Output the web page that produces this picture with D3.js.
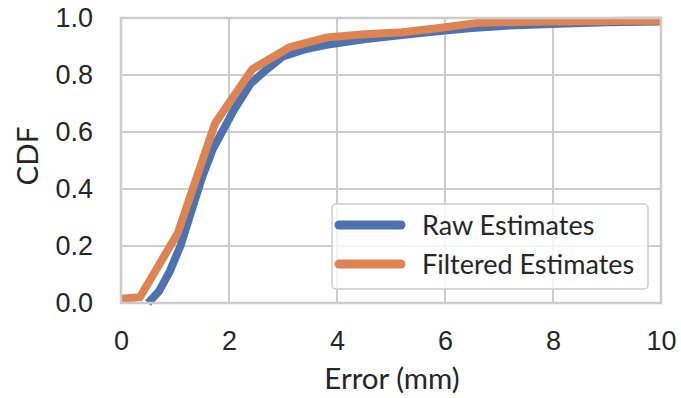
<!DOCTYPE html>
<html>
<head>
<meta charset="utf-8">
<script src="https://cdn.jsdelivr.net/npm/d3@7"></script>
<style>
  body { margin: 0; background: #fff; }
  svg { display: block; font-family: Lato, "DejaVu Sans", sans-serif; }
</style>
</head>
<body>
<div id="chart"></div>
<script>
// values
const xTicks = [0, 2, 4, 6, 8, 10];
const yTicks = [0, 0.2, 0.4, 0.6, 0.8, 1.0];

const rawX = [0.5, 0.7, 0.9, 1.1, 1.3, 1.5, 1.7, 1.9, 2.1, 2.4, 2.7, 3.0, 3.4, 3.9, 4.5, 5.2, 6.0, 6.5, 7.2, 8.1, 9.0, 10];
const rawY = [0, 0.04, 0.11, 0.2, 0.32, 0.44, 0.54, 0.61, 0.68, 0.77, 0.82, 0.865, 0.89, 0.909, 0.925, 0.94, 0.956, 0.965, 0.974, 0.98, 0.985, 0.988];

const filtX = [0, 0.35, 1.05, 1.74, 2.43, 3.13, 3.82, 4.52, 5.21, 5.9, 6.6, 7.3, 8.0, 8.7, 9.4, 10];
const filtY = [0.015, 0.02, 0.245, 0.63, 0.82, 0.898, 0.932, 0.943, 0.95, 0.965, 0.983, 0.986, 0.988, 0.989, 0.99, 0.99];

const seriesNames = ["Raw Estimates", "Filtered Estimates"];
const colors = ["#4c72b0", "#dd8452"];

const width = 681, height = 398;
const margin = { top: 18, right: 20, bottom: 95, left: 121 };
const innerW = width - margin.left - margin.right;
const innerH = height - margin.top - margin.bottom;

const svg = d3.select("#chart").append("svg")
    .attr("width", width)
    .attr("height", height);

const x = d3.scaleLinear().domain([0, 10]).range([margin.left, margin.left + innerW]);
const y = d3.scaleLinear().domain([0, 1]).range([margin.top + innerH, margin.top]);

// grid
svg.append("g")
    .selectAll("line")
    .data(xTicks)
    .join("line")
    .attr("x1", d => x(d)).attr("x2", d => x(d))
    .attr("y1", y(0)).attr("y2", y(1))
    .attr("stroke", "#cccccc").attr("stroke-width", 2);

svg.append("g")
    .selectAll("line")
    .data(yTicks)
    .join("line")
    .attr("x1", x(0)).attr("x2", x(10))
    .attr("y1", d => y(d)).attr("y2", d => y(d))
    .attr("stroke", "#cccccc").attr("stroke-width", 2);

const line = d3.line()
    .x(d => x(d[0]))
    .y(d => y(d[1]));

const series = [
  d3.zip(rawX, rawY),
  d3.zip(filtX, filtY)
];

series.forEach((s, i) => {
  svg.append("path")
      .datum(s)
      .attr("fill", "none")
      .attr("stroke", colors[i])
      .attr("stroke-width", 8)
      .attr("stroke-linejoin", "round")
      .attr("d", line);
});

// spines
svg.append("rect")
    .attr("x", x(0)).attr("y", y(1))
    .attr("width", x(10) - x(0)).attr("height", y(0) - y(1))
    .attr("fill", "none")
    .attr("stroke", "#cccccc").attr("stroke-width", 2.5);

// axes
const xAxis = svg.append("g")
    .attr("transform", `translate(0,${y(0)})`)
    .call(d3.axisBottom(x).tickValues(xTicks).tickFormat(d3.format("d")).tickSize(0).tickPadding(28));
xAxis.select(".domain").remove();
xAxis.selectAll("text").attr("font-size", 27).attr("fill", "#262626");

const yAxis = svg.append("g")
    .attr("transform", `translate(${x(0)},0)`)
    .call(d3.axisLeft(y).tickValues(yTicks).tickFormat(d3.format(".1f")).tickSize(0).tickPadding(28));
yAxis.select(".domain").remove();
yAxis.selectAll("text").attr("font-size", 27).attr("fill", "#262626");

svg.append("text")
    .attr("x", (x(0) + x(10)) / 2 + 1)
    .attr("y", 389)
    .attr("text-anchor", "middle")
    .attr("font-size", 29.5)
    .attr("fill", "#262626")
    .text("Error (mm)");

svg.append("text")
    .attr("transform", `translate(38,156) rotate(-90)`)
    .attr("text-anchor", "middle")
    .attr("font-size", 29.5)
    .attr("fill", "#262626")
    .text("CDF");

// legend
const legend = svg.append("g").attr("transform", "translate(332,204)");
legend.append("rect")
    .attr("width", 316).attr("height", 85)
    .attr("rx", 4)
    .attr("fill", "#fff").attr("fill-opacity", 0.8)
    .attr("stroke", "#cccccc").attr("stroke-width", 1.5);

seriesNames.forEach((name, i) => {
  const ly = 21 + i * 39;
  legend.append("line")
      .attr("x1", 7).attr("x2", 69)
      .attr("y1", ly).attr("y2", ly)
      .attr("stroke", colors[i]).attr("stroke-width", 9)
      .attr("stroke-linecap", "round");
  legend.append("text")
      .attr("x", 90).attr("y", ly)
      .attr("dy", "0.36em")
      .attr("font-size", 27)
      .attr("fill", "#262626")
      .text(name);
});
</script>
</body>
</html>
